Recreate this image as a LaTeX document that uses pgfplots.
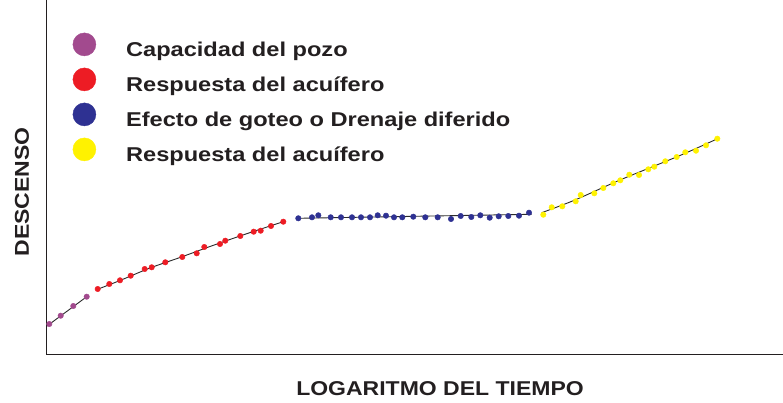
\documentclass[border=0pt]{standalone}
\usepackage{fontspec}
\usepackage{pgfplots}
\pgfplotsset{compat=1.18}
\newfontfamily\labfont{Liberation Sans}[FakeStretch=1.15]
\newfontfamily\legfont{Liberation Sans}[FakeStretch=1.18]
\definecolor{cpurple}{HTML}{A24A8E}
\definecolor{cred}{HTML}{ED1C24}
\definecolor{cblue}{HTML}{2E3192}
\definecolor{cyellow}{HTML}{FFF200}
\definecolor{ctext}{HTML}{231F20}
\definecolor{cline}{HTML}{2B2B2B}
\begin{document}
\begin{tikzpicture}
\useasboundingbox (0,0) rectangle (783pt,403pt);
\begin{axis}[
  at={(47pt,48pt)}, anchor=south west,
  scale only axis, width=736pt, height=355pt,
  xmin=47, xmax=783, ymin=0, ymax=355,
  axis lines=left,
  axis line style={-, line width=1pt, ctext},
  xtick=\empty, ytick=\empty,
  clip=false,
  xlabel={LOGARITMO DEL TIEMPO},
  ylabel={DESCENSO},
  label style={font=\labfont\bfseries\fontsize{20}{24}\selectfont, text=ctext, inner sep=0pt},
  xlabel style={at={(axis cs:440,-41)}, anchor=base},
  ylabel style={at={(axis cs:29,163)}, anchor=base},
  legend style={at={(axis cs:72.5,322.5)}, anchor=north west, draw=none, fill=none,
    inner sep=0pt, row sep=7.3pt, column sep=28pt,
    font=\legfont\bfseries\fontsize{20}{24}\selectfont, text=ctext,
    cells={anchor=base west, inner sep=0pt}},
]
% fitted lines
\addplot[forget plot, cline, line width=0.9pt] coordinates {(47,29) (87,58.5)};
\addplot[forget plot, cline, line width=0.9pt, smooth] coordinates {(97,65.5) (120,74.5) (150,87) (180,97.5) (210,108.5) (240,119) (270,129) (284,133.5)};
\addplot[forget plot, cline, line width=0.9pt] coordinates {(298.3,136.7) (531.7,140.7)};
\addplot[forget plot, cline, line width=0.9pt, smooth] coordinates {(541.7,142.3) (575,155) (620,175) (680,199.5) (718,216.5)};
% data
\addplot[only marks, mark=*, mark size=2.75pt, color=cpurple,
  legend image code/.code={\fill[cpurple] (0pt,12.5pt) circle (11.5pt);}]
  coordinates {(49.3,31) (60.7,39.3) (73.3,49) (86.7,58.3)};
\addlegendentry{Capacidad del pozo}
\addplot[only marks, mark=*, mark size=2.75pt, color=cred,
  legend image code/.code={\fill[cred] (0pt,12.5pt) circle (11.5pt);}]
  coordinates {(97.7,66) (109.3,71) (120,74.7) (130.7,79.3) (144.7,86) (151.7,87.7) (165.3,92.7) (182.3,98) (196.7,101.7) (204.3,108) (220,111) (225.3,114.3) (240.3,119) (253.7,123.3) (260.7,124.3) (271,129) (283.3,133.3)};
\addlegendentry{Respuesta del acuífero}
\addplot[only marks, mark=*, mark size=2.75pt, color=cblue,
  legend image code/.code={\fill[cblue] (0pt,12.5pt) circle (11.5pt);}]
  coordinates {(298.3,136.7) (312,137.7) (318.3,139.7) (330.7,137.7) (341,137.7) (352,137.7) (361,137.7) (370,137.7) (377.7,139.7) (386,139.3) (394,137.7) (402.3,137.7) (413.3,138.3) (425.3,137.7) (437.7,137.7) (451,136) (460.7,139) (471.3,138) (480.3,139.7) (489.7,137.3) (498.7,138.7) (508.3,139) (519,139.3) (529,142.3)};
\addlegendentry{Efecto de goteo o Drenaje diferido}
\addplot[only marks, mark=*, mark size=2.75pt, color=cyellow,
  legend image code/.code={\fill[cyellow] (0pt,12.5pt) circle (11.5pt);}]
  coordinates {(543.3,140.3) (551.7,147.7) (562.3,148.7) (575.7,153.7) (580.7,160) (594.3,161.7) (603.3,167) (613.3,171.7) (620.3,174.7) (629.3,180.3) (639,180) (648.3,185.7) (654.3,188.3) (665.3,193.7) (676.7,198) (685.3,202.7) (696,204.3) (706,209.7) (717.3,216.3)};
\addlegendentry{Respuesta del acuífero}
\end{axis}
\end{tikzpicture}
\end{document}
